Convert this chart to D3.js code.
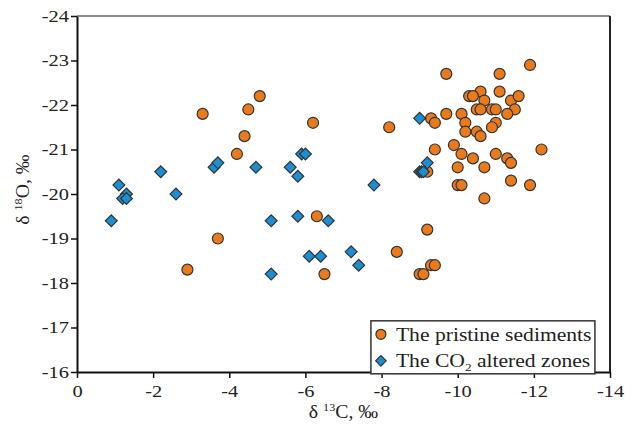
<!DOCTYPE html>
<html>
<head>
  <meta charset="utf-8">
  <style>
    body { margin: 0; background: #fff; }
    .axis text { font: 17px "Liberation Serif", serif; fill: #222; }
    .axis path, .axis line { stroke: #111; }
    .label { font: 18px "Liberation Serif", serif; fill: #222; }
    .legend text { font: 18px "Liberation Serif", serif; fill: #222; }
  </style>
</head>
<body>
  <script src="https://cdn.jsdelivr.net/npm/d3@7"></script>
  <script>
    // pristine sediments (delta 13C, delta 18O)
    var pristineX = [-3.3, -4.5, -4.8, -4.4, -4.2, -6.2, -8.2, -9.7, -11.1, -11.9,
                     -10.6, -11.1, -10.3, -10.4, -10.7, -11.4, -11.6, -10.5, -10.6, -10.9,
                     -11.0, -11.5, -11.3, -9.7, -10.1, -9.3, -9.4, -10.2, -11.0, -10.9,
                     -10.2, -10.5, -10.6, -9.4, -9.9, -10.1, -10.4, -11.0, -11.3, -11.4,
                     -12.2, -9.2, -10.0, -10.7, -10.0, -10.1, -11.4, -11.9, -10.7, -6.3,
                     -6.5, -9.2, -8.4, -9.3, -9.4, -9.0, -9.1, -3.7, -2.9];
    var pristineY = [-21.8, -21.9, -22.2, -21.3, -20.9, -21.6, -21.5, -22.7, -22.7, -22.9,
                     -22.3, -22.3, -22.2, -22.2, -22.1, -22.1, -22.2, -21.9, -21.9, -21.9,
                     -21.9, -21.9, -21.8, -21.8, -21.8, -21.7, -21.6, -21.6, -21.6, -21.5,
                     -21.4, -21.4, -21.3, -21.0, -21.1, -20.9, -20.8, -20.9, -20.8, -20.7,
                     -21.0, -20.5, -20.6, -20.6, -20.2, -20.2, -20.3, -20.2, -19.9, -19.5,
                     -18.2, -19.2, -18.7, -18.4, -18.4, -18.2, -18.2, -19.0, -18.3];

    // CO2 altered zones
    var alteredX = [-1.1, -1.3, -1.2, -1.3, -0.9, -2.6, -2.2, -3.6, -3.7, -4.7,
                    -5.6, -5.8, -5.9, -6.0, -5.1, -5.8, -6.6, -5.1, -6.1, -6.4,
                    -7.2, -7.4, -7.8, -9.0, -9.2, -9.0, -9.05, -9.1];
    var alteredY = [-20.2, -20.0, -19.9, -19.9, -19.4, -20.0, -20.5, -20.6, -20.7, -20.6,
                    -20.6, -20.4, -20.9, -20.9, -19.4, -19.5, -19.4, -18.2, -18.6, -18.6,
                    -18.7, -18.4, -20.2, -21.7, -20.7, -20.5, -20.5, -20.5];

    var xTicks = [0, -2, -4, -6, -8, -10, -12, -14];
    var yTicks = [-16, -17, -18, -19, -20, -21, -22, -23, -24];

    var orange = "#ea7a1c", blue = "#1a8fd2";

    var margin = {top: 16, right: 30, bottom: 53, left: 77},
        width = 640 - margin.left - margin.right,
        height = 425 - margin.top - margin.bottom;

    var svg = d3.select("body").append("svg")
        .attr("width", 640)
        .attr("height", 425)
      .append("g")
        .attr("transform", "translate(" + margin.left + "," + margin.top + ")");

    var x = d3.scaleLinear().domain([0, -14]).range([0, width]);
    var y = d3.scaleLinear().domain([-16, -24]).range([height, 0]);

    // widen glyphs a bit, the original type is stretched
    function stretch(sel, k) {
      sel.each(function() {
        var w = this.getComputedTextLength();
        d3.select(this).attr("textLength", w * k).attr("lengthAdjust", "spacingAndGlyphs");
      });
    }

    // frame top / right
    svg.append("line").attr("x1", 0).attr("x2", width).attr("y1", 0).attr("y2", 0)
        .attr("stroke", "#666").attr("stroke-width", 1.5);
    svg.append("line").attr("x1", width).attr("x2", width).attr("y1", 0).attr("y2", height)
        .attr("stroke", "#222").attr("stroke-width", 2);

    var xAxis = svg.append("g")
        .attr("class", "axis")
        .attr("transform", "translate(0," + height + ")")
        .call(d3.axisBottom(x).tickValues(xTicks).tickSize(6).tickSizeOuter(0)
              .tickFormat(function(d) { return String(d); }));
    xAxis.select(".domain").attr("stroke-width", 2);
    xAxis.selectAll(".tick line").attr("stroke-width", 1.5);
    xAxis.selectAll("text").attr("dy", "0.95em");
    stretch(xAxis.selectAll("text"), 1.2);

    var yAxis = svg.append("g")
        .attr("class", "axis")
        .call(d3.axisLeft(y).tickValues(yTicks).tickSize(6).tickSizeOuter(0)
              .tickFormat(function(d) { return String(d); }));
    yAxis.select(".domain").attr("stroke-width", 2);
    yAxis.selectAll(".tick line").attr("stroke-width", 1.5);
    yAxis.selectAll("text").attr("x", -8);
    stretch(yAxis.selectAll("text"), 1.2);

    // axis titles
    var xt = svg.append("text").attr("class", "label")
        .attr("x", x(-7)).attr("y", height + 46)
        .attr("text-anchor", "middle");
    xt.append("tspan").text("\u03b4 ");
    xt.append("tspan").attr("font-size", "11px").attr("dy", -7).text("13");
    xt.append("tspan").attr("dy", 7).text("C, \u2030");
    stretch(xt, 1.1);

    var yt = svg.append("text").attr("class", "label")
        .attr("transform", "translate(" + (-48) + "," + y(-20.1) + ") rotate(-90)")
        .attr("text-anchor", "middle");
    yt.append("tspan").text("\u03b4 ");
    yt.append("tspan").attr("font-size", "11px").attr("dy", -7).text("18");
    yt.append("tspan").attr("dy", 7).text("O, \u2030");
    stretch(yt, 1.1);

    // pristine sediments
    svg.selectAll(".pristine")
        .data(pristineX.map(function(d, i) { return [d, pristineY[i]]; }))
      .enter().append("circle")
        .attr("class", "pristine")
        .attr("cx", function(d) { return x(d[0]); })
        .attr("cy", function(d) { return y(d[1]); })
        .attr("r", 5.5)
        .attr("fill", orange)
        .attr("stroke", "#333")
        .attr("stroke-width", 1.2);

    // CO2 altered zones
    var diamond = d3.symbol().type(d3.symbolSquare).size(70);
    svg.selectAll(".altered")
        .data(alteredX.map(function(d, i) { return [d, alteredY[i]]; }))
      .enter().append("path")
        .attr("class", "altered")
        .attr("d", diamond)
        .attr("transform", function(d) { return "translate(" + x(d[0]) + "," + y(d[1]) + ") rotate(45)"; })
        .attr("fill", blue)
        .attr("stroke", "#333")
        .attr("stroke-width", 1.2);

    // legend
    var lg = svg.append("g").attr("class", "legend")
        .attr("transform", "translate(" + (x(-7.72)) + "," + (y(-17.15)) + ")");
    lg.append("rect").attr("width", 224).attr("height", 53)
        .attr("fill", "#fff").attr("stroke", "#333").attr("stroke-width", 1.5);
    lg.append("circle").attr("cx", 10).attr("cy", 13.5).attr("r", 5)
        .attr("fill", orange).attr("stroke", "#333").attr("stroke-width", 1.2);
    lg.append("path").attr("d", d3.symbol().type(d3.symbolSquare).size(55))
        .attr("transform", "translate(10,40) rotate(45)")
        .attr("fill", blue).attr("stroke", "#333").attr("stroke-width", 1.2);
    var t1 = lg.append("text").attr("x", 25).attr("y", 20).text("The pristine sediments");
    stretch(t1, 1.2);
    var t2 = lg.append("text").attr("x", 25).attr("y", 46);
    t2.append("tspan").text("The CO");
    t2.append("tspan").attr("font-size", "11px").attr("dy", 4).text("2");
    t2.append("tspan").attr("dy", -4).text(" altered zones");
    stretch(t2, 1.2);
  </script>
</body>
</html>
